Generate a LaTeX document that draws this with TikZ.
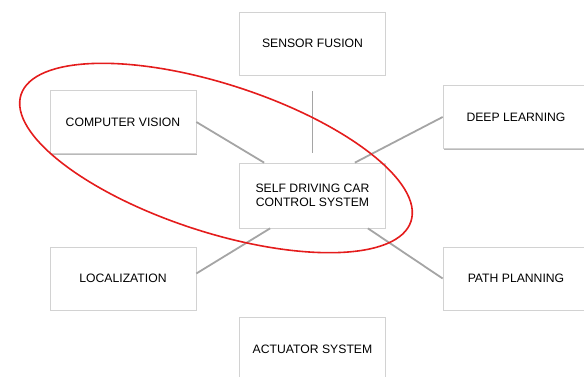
\documentclass[tikz,border=0pt]{standalone}
\usepackage{fontspec}
\setmainfont{Liberation Sans}
\usetikzlibrary{shadows,calc,shapes.geometric}
\definecolor{ringred}{RGB}{228,28,28}
\definecolor{linkgray}{RGB}{165,165,165}
\begin{document}
\begin{tikzpicture}[x=1pt,y=-1pt,
  box/.style={draw=gray!35, line width=0.7pt, fill=white, minimum width=146pt, minimum height=63pt,
    inner sep=0pt, align=center, font=\fontsize{12.2}{13.5}\selectfont,
    drop shadow={shadow xshift=0.6pt, shadow yshift=-1.3pt, fill=gray!55, opacity=1}},
  link/.style={draw=linkgray, line width=1.8pt},
  ring/.style={draw=ringred, line width=1.6pt}]
\useasboundingbox (0,0) rectangle (584,376);
\node[box] (sf) at (312.5,43.5) {SENSOR FUSION};
\node[box] (cv) at (123,122) {COMPUTER VISION};
\node[box] (dl) at (516,117) {DEEP LEARNING};
\node[box, minimum height=65pt] (ctrl) at (312.5,195.5) {SELF DRIVING CAR\\CONTROL SYSTEM};
\node[box] (loc) at (123,278.5) {LOCALIZATION};
\node[box] (pp) at (516,278.5) {PATH PLANNING};
\node[box, minimum height=64pt] (act) at (312.5,349.5) {ACTUATOR SYSTEM};
\draw[link, shorten <=16pt, shorten >=10pt] (sf) -- (ctrl);
\draw[link] (cv.east) -- ($(ctrl.north west)+(25,0)$);
\draw[link] (dl.west) -- ($(ctrl.north east)+(-31,0)$);
\draw[link] ($(ctrl.south west)+(31,0)$) -- ($(loc.east)+(0,-5)$);
\draw[link] ($(ctrl.south east)+(-18,0)$) -- (pp.west);
\node[ring, ellipse, minimum width=410pt, minimum height=148pt, rotate=-18, inner sep=0pt] (ring) at (216,158) {};
\end{tikzpicture}
\end{document}
